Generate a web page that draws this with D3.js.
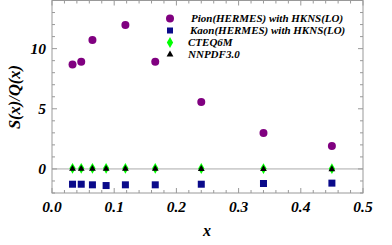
<!DOCTYPE html>
<html>
<head>
<meta charset="utf-8">
<script src="https://cdn.jsdelivr.net/npm/d3@7"></script>
<style>
  body { margin: 0; background: #fff; }
  text { font-family: "Liberation Serif", "DejaVu Serif", serif; font-style: italic; font-weight: bold; }
</style>
</head>
<body>
<div id="chart"></div>
<script>
// x bins (HERMES)
const xPion = [0.033, 0.047, 0.065, 0.118, 0.166, 0.24, 0.34, 0.45];
const yPion = [8.68, 8.9, 10.72, 11.96, 8.9, 5.56, 2.98, 1.9];

const xBins = [0.033, 0.047, 0.065, 0.087, 0.118, 0.166, 0.24, 0.34, 0.45];
const yKaon = [-1.27, -1.27, -1.32, -1.38, -1.32, -1.32, -1.27, -1.21, -1.18];
const yCteq = [0.05, 0.05, 0.05, 0.05, 0.05, 0.05, 0.04, 0.03, 0.02];
const yNnpdf = [0.05, 0.05, 0.05, 0.05, 0.05, 0.05, 0.04, 0.03, 0.02];

const xTicks = [0, 0.1, 0.2, 0.3, 0.4, 0.5];
const yTicks = [0, 5, 10];
const legendNames = ["Pion(HERMES) with HKNS(LO)", "Kaon(HERMES) with HKNS(LO)", "CTEQ6M", "NNPDF3.0"];

const width = 392, height = 245;
const margin = { left: 52, right: 29, top: 0.5, bottom: 52 };

const svg = d3.select("#chart").append("svg")
  .attr("width", width)
  .attr("height", height);

const x = d3.scaleLinear().domain([0, 0.5]).range([margin.left, width - margin.right]);
const y = d3.scaleLinear().domain([-2, 14]).range([height - margin.bottom, margin.top]);

const frameColor = "#999";

// zero line
svg.append("line")
  .attr("x1", x(0)).attr("x2", x(0.5))
  .attr("y1", y(0)).attr("y2", y(0))
  .attr("stroke", "#aaa").attr("stroke-width", 1);

// ticks on all four sides (inward)
const xMinor = d3.range(0, 0.5001, 0.02);
const yMinor = d3.range(-2, 14.001, 1);
const gTicks = svg.append("g").attr("stroke", frameColor).attr("stroke-width", 1);

xMinor.forEach(v => {
  const major = xTicks.some(t => Math.abs(t - v) < 1e-6);
  const len = major ? 5 : 3;
  gTicks.append("line").attr("x1", x(v)).attr("x2", x(v))
    .attr("y1", y(-2)).attr("y2", y(-2) - len);
  gTicks.append("line").attr("x1", x(v)).attr("x2", x(v))
    .attr("y1", y(14)).attr("y2", y(14) + len);
});
yMinor.forEach(v => {
  const major = yTicks.includes(Math.round(v));
  const len = major ? 5 : 3;
  gTicks.append("line").attr("y1", y(v)).attr("y2", y(v))
    .attr("x1", x(0)).attr("x2", x(0) + len);
  gTicks.append("line").attr("y1", y(v)).attr("y2", y(v))
    .attr("x1", x(0.5)).attr("x2", x(0.5) - len);
});

// frame
svg.append("rect")
  .attr("x", x(0)).attr("y", y(14))
  .attr("width", x(0.5) - x(0)).attr("height", y(-2) - y(14))
  .attr("fill", "none").attr("stroke", frameColor).attr("stroke-width", 1);

// tick labels
svg.selectAll(".xl").data(xTicks).enter().append("text")
  .attr("x", d => x(d)).attr("y", 212)
  .attr("text-anchor", "middle").attr("font-size", 15.5)
  .text(d => d.toFixed(1));

svg.selectAll(".yl").data(yTicks).enter().append("text")
  .attr("x", x(0) - 6).attr("y", d => y(d) + 5)
  .attr("text-anchor", "end").attr("font-size", 15.5)
  .text(d => d);

// axis titles
svg.append("text")
  .attr("x", 207).attr("y", 236)
  .attr("text-anchor", "middle").attr("font-size", 16)
  .text("x");

svg.append("text")
  .attr("transform", "translate(20,97) rotate(-90)")
  .attr("text-anchor", "middle").attr("font-size", 16.5)
  .text("S(x)/Q(x)");

// markers
const diamond = d3.symbol().type(d3.symbolDiamond).size(34);
const triangle = d3.symbol().type(d3.symbolTriangle).size(20);

svg.selectAll(".cteq").data(xBins).enter().append("path")
  .attr("d", diamond)
  .attr("transform", (d, i) => `translate(${x(d)},${y(yCteq[i])})`)
  .attr("fill", "#00ff00");

svg.selectAll(".nnpdf").data(xBins).enter().append("path")
  .attr("d", triangle)
  .attr("transform", (d, i) => `translate(${x(d)},${y(yNnpdf[i]) + 0.5})`)
  .attr("fill", "#000");

svg.selectAll(".kaon").data(xBins).enter().append("rect")
  .attr("x", d => x(d) - 3.5).attr("y", (d, i) => y(yKaon[i]) - 3.5)
  .attr("width", 7).attr("height", 7)
  .attr("fill", "#0a0a8a");

svg.selectAll(".pion").data(xPion).enter().append("circle")
  .attr("cx", d => x(d)).attr("cy", (d, i) => y(yPion[i]))
  .attr("r", 4)
  .attr("fill", "#800080");

// legend
const legY = [18.5, 30.5, 42.5, 54.5];
const leg = svg.append("g");
leg.append("circle").attr("cx", 170).attr("cy", legY[0]).attr("r", 4).attr("fill", "#800080");
leg.append("rect").attr("x", 167).attr("y", legY[1] - 3).attr("width", 6).attr("height", 6).attr("fill", "#0a0a8a");
leg.append("path").attr("d", diamond).attr("transform", `translate(170,${legY[2]})`).attr("fill", "#00ff00");
leg.append("path").attr("d", triangle).attr("transform", `translate(170,${legY[3]})`).attr("fill", "#000");

const legX = [191, 190, 188, 188];
leg.selectAll(".lt").data(legendNames).enter().append("text")
  .attr("x", (d, i) => legX[i]).attr("y", (d, i) => legY[i] + 3.5)
  .attr("font-size", 11)
  .text(d => d);
</script>
</body>
</html>
